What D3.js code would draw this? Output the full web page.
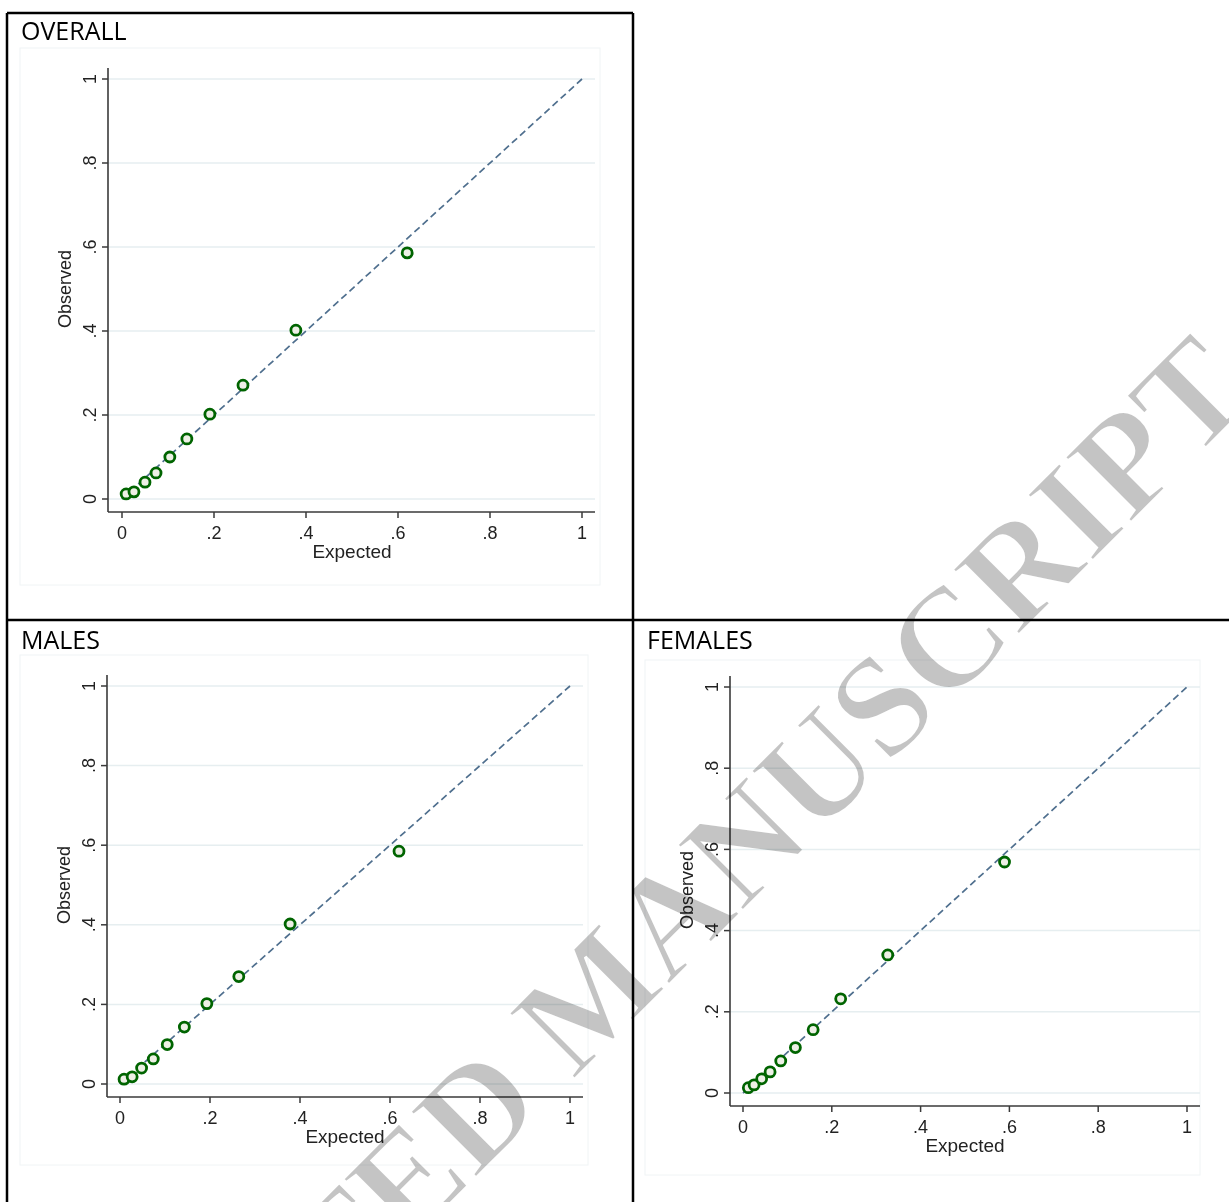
<!DOCTYPE html>
<html>
<head>
<meta charset="utf-8">
<script src="https://cdn.jsdelivr.net/npm/d3@7"></script>
<style>
  body { margin: 0; background: #fff; }
  svg { display: block; }
</style>
</head>
<body>
<div id="sketchpad"></div>
<script>
var w = 1229, h = 1202;

// calibration points: expected vs observed
var overallExpected = [0.009, 0.026, 0.050, 0.074, 0.104, 0.141, 0.191, 0.263, 0.378, 0.620];
var overallObserved = [0.012, 0.017, 0.040, 0.062, 0.100, 0.143, 0.202, 0.271, 0.402, 0.586];
var malesExpected   = [0.009, 0.027, 0.048, 0.074, 0.105, 0.143, 0.193, 0.264, 0.378, 0.620];
var malesObserved   = [0.012, 0.018, 0.040, 0.063, 0.099, 0.143, 0.202, 0.270, 0.402, 0.585];
var femalesExpected = [0.012, 0.025, 0.042, 0.061, 0.085, 0.118, 0.158, 0.220, 0.326, 0.589];
var femalesObserved = [0.013, 0.020, 0.035, 0.052, 0.079, 0.112, 0.156, 0.232, 0.340, 0.569];

var tickValues = [0, 0.2, 0.4, 0.6, 0.8, 1];
var tickLabels = ["0", ".2", ".4", ".6", ".8", "1"];
var panelTitles = ["OVERALL", "MALES", "FEMALES"];
var xTitle = "Expected", yTitle = "Observed";
var watermark = "ACCEPTED MANUSCRIPT";

var axis_color = "#3a3a3a";
var grid_color = "#e6eef0";
var marker_color = "#006400";
var line_color = "#4f6f8e";
var sans = "'Liberation Sans', Arial, sans-serif";

// layout of the three graphs (pixels)
var panels = [
  { title: panelTitles[0], tx: 21, ty: 40, box: [20, 48, 600, 585],
    x0: 122, x1: 582, y0: 499, y1: 79, ax: 108, ay: 512,
    exp: overallExpected, obs: overallObserved },
  { title: panelTitles[1], tx: 21, ty: 649, box: [20, 655, 588, 1165],
    x0: 120, x1: 570, y0: 1084, y1: 686, ax: 107, ay: 1097,
    exp: malesExpected, obs: malesObserved },
  { title: panelTitles[2], tx: 647, ty: 649, box: [645, 660, 1200, 1175],
    x0: 743, x1: 1187, y0: 1093, y1: 687, ax: 730, ay: 1106,
    exp: femalesExpected, obs: femalesObserved }
];

var canvas = d3.select("#sketchpad")
  .append("svg")
  .attr("width", w)
  .attr("height", h);

panels.forEach(function(p) {
  var x = d3.scaleLinear().domain([0, 1]).range([p.x0, p.x1]);
  var y = d3.scaleLinear().domain([0, 1]).range([p.y0, p.y1]);
  var g = canvas.append("g");

  // faint graph region frame
  g.append("rect")
    .attr("x", p.box[0]).attr("y", p.box[1])
    .attr("width", p.box[2] - p.box[0]).attr("height", p.box[3] - p.box[1])
    .attr("fill", "#fff").attr("stroke", "#f0f4f5").attr("stroke-width", 1);

  var xEnd = p.x1 + 13, yTop = p.y1 - 11;

  // horizontal grid
  g.selectAll("line.grid")
    .data(tickValues)
    .enter()
    .append("line")
    .attr("class", "grid")
    .attr("x1", p.ax).attr("x2", xEnd)
    .attr("y1", function(d) { return y(d); })
    .attr("y2", function(d) { return y(d); })
    .attr("stroke", grid_color).attr("stroke-width", 1.5);

  // axes
  g.append("line")
    .attr("x1", p.ax).attr("x2", p.ax).attr("y1", yTop).attr("y2", p.ay)
    .attr("stroke", axis_color).attr("stroke-width", 1.6);
  g.append("line")
    .attr("x1", p.ax).attr("x2", xEnd).attr("y1", p.ay).attr("y2", p.ay)
    .attr("stroke", axis_color).attr("stroke-width", 1.6);

  // y ticks + rotated labels
  g.selectAll("line.ytick")
    .data(tickValues)
    .enter()
    .append("line")
    .attr("x1", p.ax - 6).attr("x2", p.ax)
    .attr("y1", function(d) { return y(d); })
    .attr("y2", function(d) { return y(d); })
    .attr("stroke", axis_color).attr("stroke-width", 1.5);
  g.selectAll("text.ylab")
    .data(tickValues)
    .enter()
    .append("text")
    .attr("transform", function(d) { return "translate(" + (p.ax - 12) + "," + y(d) + ") rotate(-90)"; })
    .attr("text-anchor", "middle")
    .style("font-family", sans).style("font-size", "18px").attr("fill", "#222")
    .text(function(d, i) { return tickLabels[i]; });

  // x ticks + labels
  g.selectAll("line.xtick")
    .data(tickValues)
    .enter()
    .append("line")
    .attr("x1", function(d) { return x(d); })
    .attr("x2", function(d) { return x(d); })
    .attr("y1", p.ay).attr("y2", p.ay + 6)
    .attr("stroke", axis_color).attr("stroke-width", 1.5);
  g.selectAll("text.xlab")
    .data(tickValues)
    .enter()
    .append("text")
    .attr("x", function(d) { return x(d); })
    .attr("y", p.ay + 27)
    .attr("text-anchor", "middle")
    .style("font-family", sans).style("font-size", "18px").attr("fill", "#222")
    .text(function(d, i) { return tickLabels[i]; });

  // axis titles
  g.append("text")
    .attr("x", (p.x0 + p.x1) / 2).attr("y", p.ay + 46)
    .attr("text-anchor", "middle")
    .style("font-family", sans).style("font-size", "19px").attr("fill", "#222")
    .text(xTitle);
  g.append("text")
    .attr("transform", "translate(" + (p.ax - 37) + "," + ((p.y0 + p.y1) / 2) + ") rotate(-90)")
    .attr("text-anchor", "middle")
    .style("font-family", sans).style("font-size", "18px").attr("fill", "#222")
    .text(yTitle);

  // reference diagonal
  g.append("line")
    .attr("x1", x(0)).attr("y1", y(0)).attr("x2", x(1)).attr("y2", y(1))
    .attr("stroke", line_color).attr("stroke-width", 1.7)
    .attr("stroke-dasharray", "7,4");

  // points
  g.selectAll("circle")
    .data(p.exp)
    .enter()
    .append("circle")
    .attr("cx", function(d) { return x(d); })
    .attr("cy", function(d, i) { return y(p.obs[i]); })
    .attr("r", 5)
    .attr("fill", "#eef0e6")
    .attr("stroke", marker_color).attr("stroke-width", 2.8);

  // panel title
  canvas.append("text")
    .attr("x", p.tx).attr("y", p.ty)
    .style("font-family", "'Open Sans', 'Noto Sans', sans-serif").style("font-size", "25px")
    .attr("fill", "#000")
    .text(p.title);
});

// table cell borders
var borders = [[7, 13, 633, 13], [7, 13, 7, 1202], [633, 13, 633, 1202], [7, 620, 1229, 620]];
canvas.selectAll("line.border")
  .data(borders)
  .enter()
  .append("line")
  .attr("x1", function(d) { return d[0]; })
  .attr("y1", function(d) { return d[1]; })
  .attr("x2", function(d) { return d[2]; })
  .attr("y2", function(d) { return d[3]; })
  .attr("stroke", "#000").attr("stroke-width", 2.5);

// watermark
canvas.append("g")
  .style("mix-blend-mode", "multiply")
  .append("text")
  .attr("transform", "translate(1258,396) rotate(-45)")
  .attr("text-anchor", "end")
  .style("font-family", "'Liberation Serif', 'Times New Roman', serif")
  .style("font-size", "143px")
  .style("font-weight", "bold")
  .attr("fill", "#c4c4c4")
  .attr("stroke", "#fff").attr("stroke-width", 3)
  .text(watermark);
</script>
</body>
</html>
